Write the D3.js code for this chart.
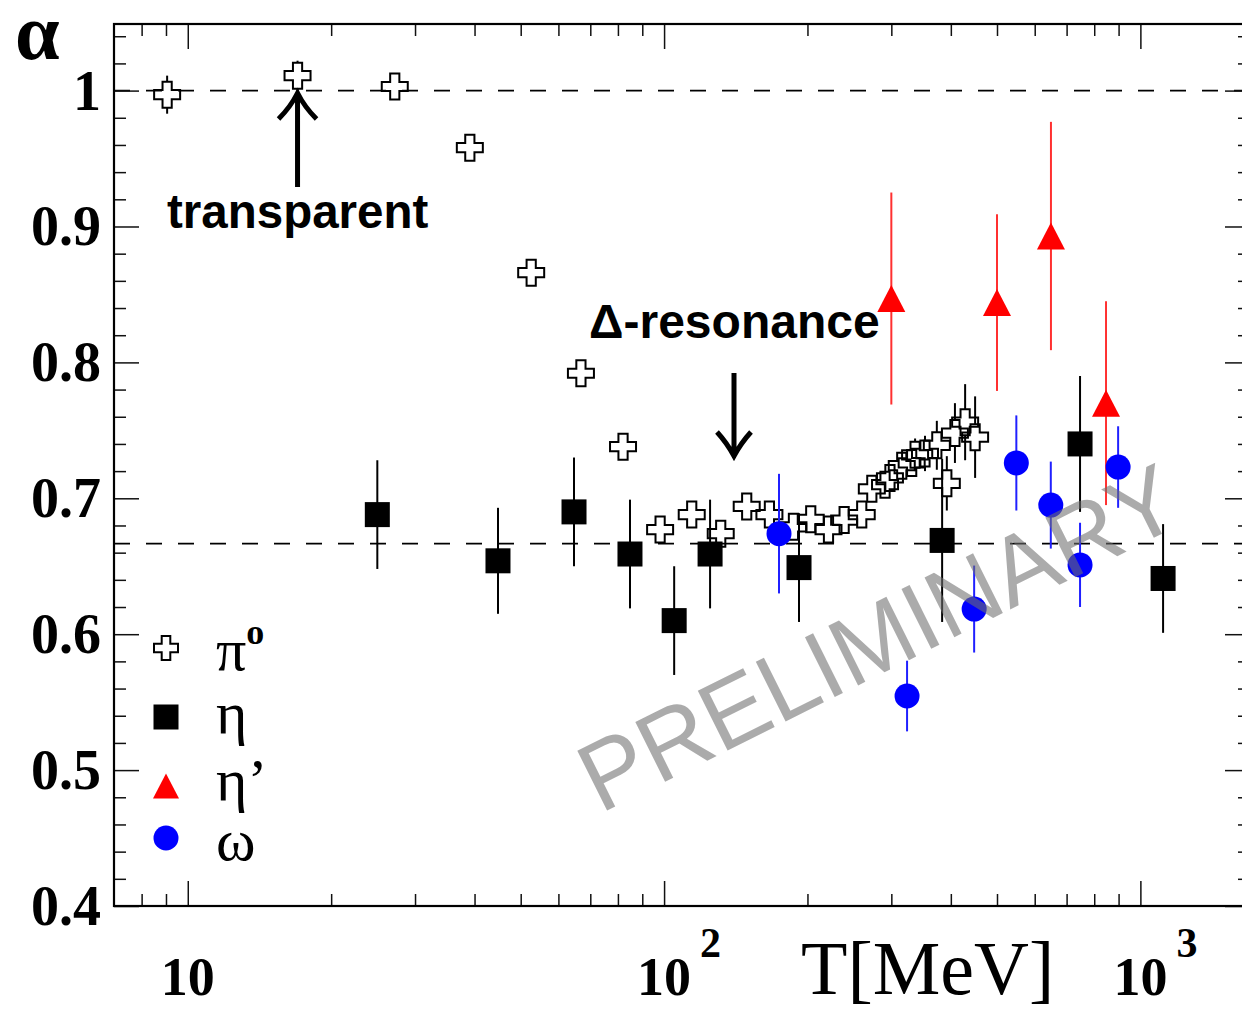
<!DOCTYPE html>
<html><head><meta charset="utf-8">
<script src="https://cdn.jsdelivr.net/npm/d3@7"></script>
<style>html,body{margin:0;padding:0;background:#fff;overflow:hidden}</style>
</head><body>
<svg id="c" width="1242" height="1009"></svg>
<script>
// ---- data ----
const pi0T = [9.05, 17.0, 27.2, 39.1, 52.6, 66.9, 82.0, 98.1, 114.3, 131.5, 149.1, 166.4, 186.9, 203.2, 221.4, 238.8, 260, 273, 291, 298, 315.5, 331, 336.5, 353, 373.8, 392.3, 408, 428.6, 449.8];
const pi0A = [0.997, 1.011, 1.003, 0.958, 0.866, 0.792, 0.738, 0.677, 0.688, 0.674, 0.694, 0.688, 0.679, 0.6845, 0.677, 0.684, 0.688, 0.707, 0.710, 0.715, 0.724, 0.726, 0.732, 0.733, 0.739, 0.711, 0.748, 0.756, 0.745];
const pi0E = [0.014, 0.011, 0.005, 0.004, 0.004, 0.004, 0.005, 0.005, 0.005, 0.005, 0.005, 0.005, 0.005, 0.005, 0.005, 0.005, 0.006, 0.006, 0.007, 0.007, 0.008, 0.009, 0.012, 0.013, 0.018, 0.020, 0.022, 0.028, 0.030];

const etaT = [25.0, 44.8, 64.7, 84.8, 105, 124.9, 192, 383.5, 747, 1116];
const etaA = [0.688, 0.654, 0.690, 0.659, 0.610, 0.659, 0.649, 0.669, 0.740, 0.641];
const etaE = [0.040, 0.039, 0.040, 0.040, 0.040, 0.040, 0.040, 0.060, 0.050, 0.040];

const etapT = [300, 500, 649, 847];
const etapA = [0.847, 0.844, 0.893, 0.770];
const etapE = [0.078, 0.065, 0.084, 0.075];

const omegaT = [174.3, 323.7, 447.7, 549, 648.5, 747, 898];
const omegaA = [0.674, 0.5545, 0.6185, 0.726, 0.695, 0.651, 0.723];
const omegaE = [0.044, 0.026, 0.032, 0.035, 0.032, 0.031, 0.030];

const yTickLabels = ["0.4", "0.5", "0.6", "0.7", "0.8", "0.9", "1"];
const xTickBase = ["10", "10", "10"];
const xTickExp = ["", "2", "3"];
const xMajor = [10, 100, 1000];
const refLines = [1, 2/3];
const legendNames = ["π", "η", "η’", "ω"];

// ---- layout ----
const svg = d3.select("#c");
const L = 114, R = 1250, T = 24, B = 906;
const x = d3.scaleLog().domain([7, 1700]).range([L, L + 476.3 * Math.log10(1700 / 7)]);
const y = d3.scaleLinear().domain([0.4, 1.049]).range([B, T]);

const serif = "'Liberation Serif','Times New Roman',serif";
const sans = "'Liberation Sans',Arial,sans-serif";

// reference dashed lines
svg.selectAll("line.ref").data(refLines).enter().append("line")
  .attr("x1", L).attr("x2", R).attr("y1", d => y(d)).attr("y2", d => y(d))
  .attr("stroke", "#000").attr("stroke-width", 1.6).attr("stroke-dasharray", "16,16");

// ticks
const xMinor = [];
[1, 10, 100].forEach(dec => { for (let k = 2; k <= 9; k++) { const v = k * dec; if (v > 7 && v < 1000) xMinor.push(v); } });
const yMajor = d3.range(0.4, 1.0001, 0.1);
const yMinor = d3.range(0.42, 1.045, 0.02).filter(v => Math.abs(Math.round(v * 10) - v * 10) > 1e-6);

function tickAxis(axis, tr) {
  const g = svg.append("g").attr("transform", tr).call(axis);
  g.select(".domain").remove();
  g.selectAll("line").attr("stroke", "#111").attr("stroke-width", 1.5);
  g.selectAll("text").remove();
}
tickAxis(d3.axisBottom(x).tickValues(xMajor).tickSize(-25).tickFormat(""), `translate(0,${B})`);
tickAxis(d3.axisBottom(x).tickValues(xMinor).tickSize(-12).tickFormat(""), `translate(0,${B})`);
tickAxis(d3.axisTop(x).tickValues(xMajor).tickSize(-25).tickFormat(""), `translate(0,${T})`);
tickAxis(d3.axisTop(x).tickValues(xMinor).tickSize(-12).tickFormat(""), `translate(0,${T})`);
tickAxis(d3.axisLeft(y).tickValues(yMajor).tickSize(-25).tickFormat(""), `translate(${L},0)`);
tickAxis(d3.axisLeft(y).tickValues(yMinor).tickSize(-12).tickFormat(""), `translate(${L},0)`);
tickAxis(d3.axisRight(y).tickValues(yMajor).tickSize(-25).tickFormat(""), `translate(${R},0)`);
tickAxis(d3.axisRight(y).tickValues(yMinor).tickSize(-12).tickFormat(""), `translate(${R},0)`);

// frame
svg.append("rect").attr("x", L).attr("y", T).attr("width", R - L).attr("height", B - T)
  .attr("fill", "none").attr("stroke", "#000").attr("stroke-width", 2.2);

// y tick labels
svg.selectAll("text.yl").data(yTickLabels).enter().append("text")
  .attr("x", 101).attr("y", (d, i) => y(yMajor[i]) + 19)
  .attr("text-anchor", "end").attr("font-family", serif).attr("font-weight", "bold")
  .attr("font-size", 56).text(d => d);

// x tick labels
xMajor.forEach((v, i) => {
  svg.append("text").attr("x", x(v)).attr("y", 995)
    .attr("text-anchor", "middle").attr("font-family", serif).attr("font-weight", "bold")
    .attr("font-size", 54).text(xTickBase[i]);
  if (xTickExp[i]) {
    svg.append("text").attr("x", x(v) + 36).attr("y", 957)
      .attr("font-family", serif).attr("font-weight", "bold").attr("font-size", 42).text(xTickExp[i]);
  }
});

// axis titles
svg.append("text").attr("x", 801).attr("y", 994).attr("font-family", serif).attr("font-size", 76).text("T[MeV]");
svg.append("text").attr("x", 15).attr("y", 59).attr("font-family", serif).attr("font-weight", "bold").attr("font-size", 80).text("α");

// annotations
svg.append("text").attr("x", 167).attr("y", 228).attr("font-family", sans).attr("font-weight", "bold").attr("font-size", 47.5).text("transparent");
svg.append("text").attr("x", 589).attr("y", 338).attr("font-family", sans).attr("font-weight", "bold").attr("font-size", 48).text("Δ-resonance");
const ax1 = x(17.0), ax2 = 734;
svg.append("path").attr("d", `M${ax1},187 L${ax1},97 M${ax1 - 19},119 Q${ax1 - 7},107 ${ax1},93 Q${ax1 + 7},107 ${ax1 + 19},119`)
  .attr("fill", "none").attr("stroke", "#000").attr("stroke-width", 5).attr("stroke-linejoin", "miter");
svg.append("path").attr("d", `M${ax2},373 L${ax2},452 M${ax2 - 17},432 Q${ax2 - 7},443 ${ax2},456 Q${ax2 + 7},443 ${ax2 + 17},432`)
  .attr("fill", "none").attr("stroke", "#000").attr("stroke-width", 5);

// markers
const crossPath = (h, a) => `M${-a},${-h}H${a}V${-a}H${h}V${a}H${a}V${h}H${-a}V${a}H${-h}V${-a}H${-a}Z`;
const triPath = (w, h) => `M0,${-h / 2}L${w / 2},${h / 2}L${-w / 2},${h / 2}Z`;

function errBars(T_, A_, E_, half, color) {
  const data = T_.map((t, i) => ({ t, a: A_[i], e: E_[i] }));
  const g = svg.append("g");
  data.forEach(d => {
    const cx = x(d.t), cy = y(d.a), top = y(d.a + d.e), bot = y(d.a - d.e);
    if (cy - half > top) g.append("line").attr("x1", cx).attr("x2", cx).attr("y1", top).attr("y2", cy - half).attr("stroke", color).attr("stroke-width", 2);
    if (bot > cy + half) g.append("line").attr("x1", cx).attr("x2", cx).attr("y1", cy + half).attr("y2", bot).attr("stroke", color).attr("stroke-width", 2);
  });
  return data;
}

// pi0
const pd = errBars(pi0T, pi0A, pi0E, 13, "#000");
svg.append("g").selectAll("path").data(pd).enter().append("path")
  .attr("transform", d => `translate(${x(d.t)},${y(d.a)})`)
  .attr("d", crossPath(13, 4.6)).attr("fill", "none").attr("stroke", "#000").attr("stroke-width", 2);
// eta
const ed = errBars(etaT, etaA, etaE, 0, "#000");
svg.append("g").selectAll("rect").data(ed).enter().append("rect")
  .attr("x", d => x(d.t) - 12.5).attr("y", d => y(d.a) - 12.5).attr("width", 25).attr("height", 25).attr("fill", "#000");
// eta'
const epd = errBars(etapT, etapA, etapE, 0, "#ff3030");
svg.append("g").selectAll("path").data(epd).enter().append("path")
  .attr("transform", d => `translate(${x(d.t)},${y(d.a)})`).attr("d", triPath(28, 27)).attr("fill", "#ff0000");
// omega
const od = errBars(omegaT, omegaA, omegaE, 0, "#2020ff");
svg.append("g").selectAll("circle").data(od).enter().append("circle")
  .attr("cx", d => x(d.t)).attr("cy", d => y(d.a)).attr("r", 12.5).attr("fill", "#0000ff");

// legend
const lx = 166, lys = [648, 717, 786, 838], lty = [670, 733, 800, 860];
svg.append("path").attr("transform", `translate(${lx},${lys[0]})`).attr("d", crossPath(12, 4.3)).attr("fill", "none").attr("stroke", "#000").attr("stroke-width", 2);
svg.append("rect").attr("x", lx - 12.5).attr("y", lys[1] - 12.5).attr("width", 25).attr("height", 25).attr("fill", "#000");
svg.append("path").attr("transform", `translate(${lx},${lys[2]})`).attr("d", triPath(26, 25)).attr("fill", "#ff0000");
svg.append("circle").attr("cx", lx).attr("cy", lys[3]).attr("r", 12.5).attr("fill", "#0000ff");
legendNames.forEach((n, i) => {
  const t = svg.append("text").attr("x", 216).attr("y", lty[i]).attr("font-family", serif).attr("font-size", 60).text(n);
  if (i === 0) t.append("tspan").attr("dy", -26).attr("font-size", 36).attr("font-weight", "bold").text("o");
});

// watermark
svg.append("text").attr("transform", "translate(600,814) rotate(-26.5)")
  .attr("font-family", sans).attr("font-size", 97).attr("fill", "rgb(110,110,110)").attr("fill-opacity", 0.58)
  .text("PRELIMINARY");
</script>
</body></html>
